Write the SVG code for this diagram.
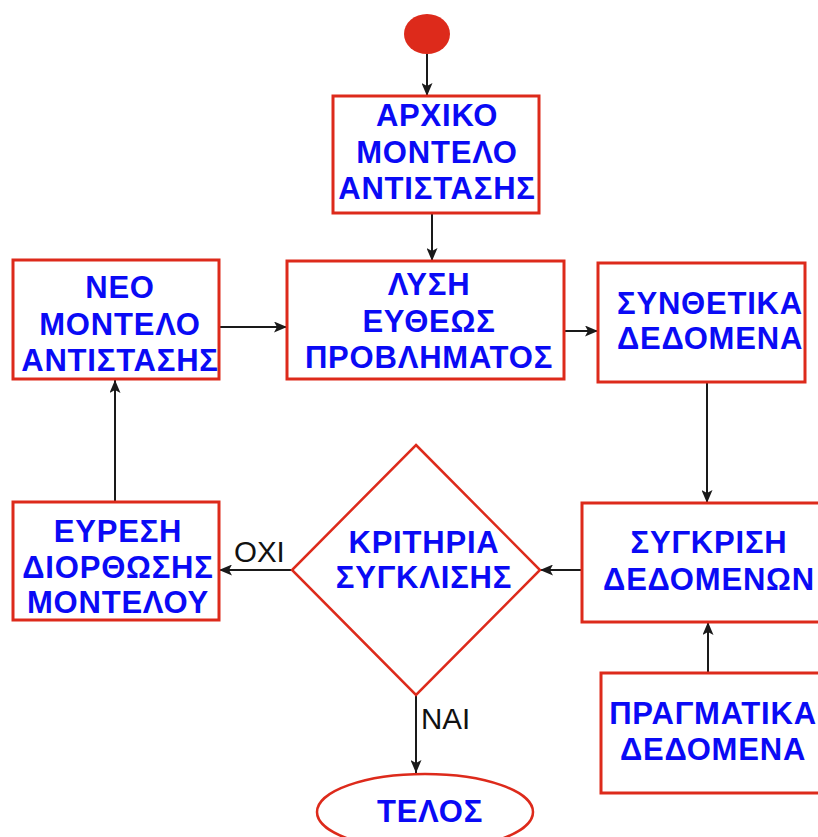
<svg xmlns="http://www.w3.org/2000/svg" width="818" height="837" viewBox="0 0 818 837">
  <defs>
    <marker id="arrow" markerWidth="13" markerHeight="11" refX="13" refY="5.5" orient="auto" markerUnits="userSpaceOnUse">
      <path d="M0,0 L13,5.5 L0,11 L3,5.5 Z" fill="#1a1a1a"/>
    </marker>
  </defs>
  <style>
    .box { fill: #ffffff; stroke: #dd2a1b; stroke-width: 3; }
    .shape { fill: #ffffff; stroke: #dd2a1b; stroke-width: 2.5; }
    .lbl { font-family: "Liberation Sans", Arial, sans-serif; font-weight: bold; font-size: 31px; letter-spacing: 0.8px; fill: #0a0af5; text-anchor: middle; }
    .edge { font-family: "Liberation Sans", Arial, sans-serif; font-size: 29.5px; fill: #111111; }
    .conn { stroke: #1a1a1a; stroke-width: 2; fill: none; marker-end: url(#arrow); }
  </style>
  <rect width="818" height="837" fill="#ffffff"/>

  <g id="connectors">
    <line class="conn" x1="427" y1="53" x2="427" y2="96"/>
    <line class="conn" x1="432" y1="213" x2="432" y2="261"/>
    <line class="conn" x1="219" y1="327" x2="287" y2="327"/>
    <line class="conn" x1="564" y1="331" x2="598" y2="331"/>
    <line class="conn" x1="707" y1="382" x2="707" y2="503"/>
    <line class="conn" x1="708" y1="673" x2="708" y2="622"/>
    <line class="conn" x1="582" y1="570" x2="540" y2="570"/>
    <line class="conn" x1="292" y1="570" x2="219" y2="570"/>
    <line class="conn" x1="115" y1="502" x2="115" y2="380"/>
    <line class="conn" x1="416" y1="695" x2="416" y2="773"/>
    <text class="edge" x="234" y="562">ΟΧΙ</text>
    <text class="edge" x="421" y="729">ΝΑΙ</text>
  </g>

  <g id="start">
    <ellipse cx="427" cy="34" rx="23" ry="20" fill="#dd2a1b"/>
  </g>

  <g id="initial-model">
    <rect class="box" x="333" y="96" width="206" height="117"/>
    <text class="lbl" x="437" y="126">ΑΡΧΙΚΟ</text>
    <text class="lbl" x="437" y="163">ΜΟΝΤΕΛΟ</text>
    <text class="lbl" x="437" y="199">ΑΝΤΙΣΤΑΣΗΣ</text>
  </g>

  <g id="forward-problem">
    <rect class="box" x="287" y="261" width="277" height="118"/>
    <text class="lbl" x="429" y="295">ΛΥΣΗ</text>
    <text class="lbl" x="429" y="332">ΕΥΘΕΩΣ</text>
    <text class="lbl" x="429" y="368">ΠΡΟΒΛΗΜΑΤΟΣ</text>
  </g>

  <g id="new-model">
    <rect class="box" x="13" y="260" width="206" height="119"/>
    <text class="lbl" x="120" y="298">ΝΕΟ</text>
    <text class="lbl" x="120" y="335">ΜΟΝΤΕΛΟ</text>
    <text class="lbl" x="120" y="371">ΑΝΤΙΣΤΑΣΗΣ</text>
  </g>

  <g id="synthetic-data">
    <rect class="box" x="598" y="263" width="207" height="119"/>
    <text class="lbl" x="710" y="314">ΣΥΝΘΕΤΙΚΑ</text>
    <text class="lbl" x="710" y="349">ΔΕΔΟΜΕΝΑ</text>
  </g>

  <g id="compare-data">
    <rect class="box" x="582" y="503" width="245" height="119"/>
    <text class="lbl" x="709" y="553">ΣΥΓΚΡΙΣΗ</text>
    <text class="lbl" x="709" y="590">ΔΕΔΟΜΕΝΩΝ</text>
  </g>

  <g id="real-data">
    <rect class="box" x="601" y="673" width="226" height="120"/>
    <text class="lbl" x="713" y="724">ΠΡΑΓΜΑΤΙΚΑ</text>
    <text class="lbl" x="713" y="760">ΔΕΔΟΜΕΝΑ</text>
  </g>

  <g id="convergence">
    <polygon class="shape" points="416,445 540,570 416,695 292,570"/>
    <text class="lbl" x="424" y="553">ΚΡΙΤΗΡΙΑ</text>
    <text class="lbl" x="424" y="588">ΣΥΓΚΛΙΣΗΣ</text>
  </g>

  <g id="model-correction">
    <rect class="box" x="13" y="502" width="206" height="118"/>
    <text class="lbl" x="118" y="542">ΕΥΡΕΣΗ</text>
    <text class="lbl" x="118" y="578">ΔΙΟΡΘΩΣΗΣ</text>
    <text class="lbl" x="118" y="613">ΜΟΝΤΕΛΟΥ</text>
  </g>

  <g id="end">
    <ellipse class="shape" cx="425" cy="812" rx="108" ry="38"/>
    <text class="lbl" x="430" y="822">ΤΕΛΟΣ</text>
  </g>
</svg>
